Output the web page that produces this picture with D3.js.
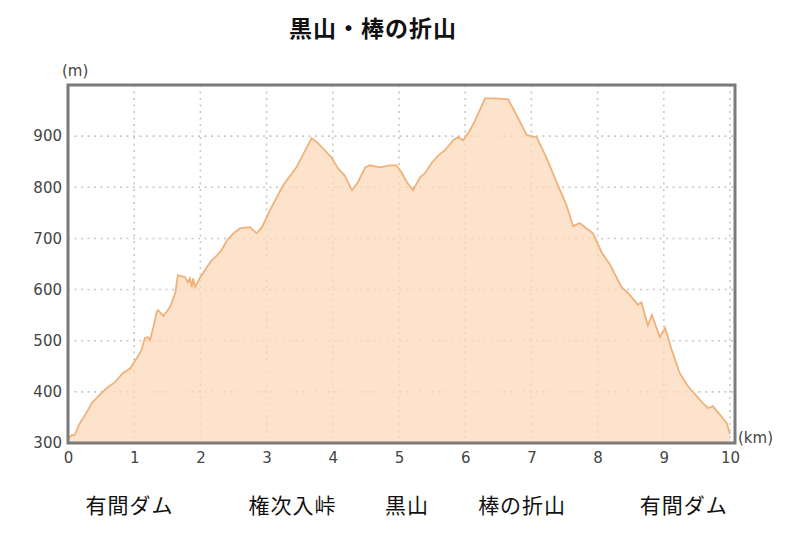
<!DOCTYPE html>
<html><head><meta charset="utf-8">
<script src="https://cdn.jsdelivr.net/npm/d3@7"></script>
<style>body{margin:0;background:#fff;}svg{display:block;}</style>
</head><body>
<script>
const title = "黒山・棒の折山";
const distKm = [0,0.06,0.1,0.18,0.26,0.36,0.45,0.58,0.71,0.83,
0.94,1.04,1.11,1.16,1.21,1.24,1.29,1.34,1.36,1.44,
1.54,1.62,1.66,1.77,1.81,1.84,1.87,1.89,1.92,1.99,
2.1,2.17,2.25,2.32,2.40,2.5,2.6,2.75,2.85,2.93,
3.05,3.25,3.45,3.68,3.78,3.91,3.98,4.08,4.18,4.29,
4.38,4.49,4.56,4.71,4.86,4.96,5.04,5.12,5.21,5.32,
5.39,5.49,5.59,5.69,5.82,5.89,5.97,6.07,6.15,6.30,
6.45,6.65,6.80,6.93,7.08,7.23,7.38,7.53,7.63,7.73,
7.83,7.93,8.06,8.19,8.36,8.49,8.61,8.66,8.76,8.82,
8.94,9.02,9.12,9.24,9.37,9.55,9.59,9.67,9.74,9.85,
9.95,10.0];
const elevM = [308,316,316,339,355,378,390,407,419,437,
446,466,482,505,507,501,527,556,560,548,
566,593,628,624,614,622,605,622,605,622,
644,657,667,677,696,710,720,722,710,722,
755,804,839,896,886,868,858,837,823,794,
810,839,843,839,843,843,829,810,794,820,
827,847,862,872,892,898,892,911,931,974,
974,972,935,902,898,857,810,765,724,730,
720,710,673,648,605,589,570,575,530,550,
507,525,482,437,410,384,378,368,372,355,
339,318];
const xTicks = [0,1,2,3,4,5,6,7,8,9,10];
const yTicks = [300,400,500,600,700,800,900];
const placeNames = ["有間ダム","権次入峠","黒山","棒の折山","有間ダム"];
const placeKm = [0.93,3.39,5.12,6.86,9.3];

const W = 800, H = 552;
const svg = d3.select("body").append("svg").attr("width", W).attr("height", H);
const pL = 68, pR = 735, pT = 85, pB = 443;
const x = d3.scaleLinear().domain([0, 10]).range([pL, 730]);
const y = d3.scaleLinear().domain([300, 1000]).range([pB, pT]);
const data = distKm.map((d, i) => ({d, e: elevM[i]}));
const tickFont = "DejaVu Sans, Verdana, sans-serif";

svg.append("rect").attr("x", pL).attr("y", pT).attr("width", pR - pL).attr("height", pB - pT).attr("fill", "#fff");

const grid = svg.append("g").attr("stroke", "#c8c8c8").attr("stroke-width", 1.6).attr("stroke-dasharray", "2,4.5");
grid.selectAll(".gx").data(xTicks.filter(t => t > 0)).join("line")
  .attr("x1", d => x(d)).attr("x2", d => x(d)).attr("y1", pT).attr("y2", pB);
grid.selectAll(".gy").data(yTicks.filter(t => t > 300)).join("line")
  .attr("x1", pL).attr("x2", pR).attr("y1", d => y(d)).attr("y2", d => y(d));

const area = d3.area().x(d => x(d.d)).y0(y(300)).y1(d => y(d.e));
svg.append("path").datum(data).attr("d", area).attr("fill", "#fcdabb").attr("fill-opacity", 0.75);
const line = d3.line().x(d => x(d.d)).y(d => y(d.e));
svg.append("path").datum(data).attr("d", line).attr("fill", "none").attr("stroke", "#f0b27a").attr("stroke-width", 1.8);

svg.append("rect").attr("x", pL).attr("y", pT).attr("width", pR - pL).attr("height", pB - pT)
  .attr("fill", "none").attr("stroke", "#7a7a7a").attr("stroke-width", 3);

const xAxis = d3.axisBottom(x).tickValues(xTicks).tickSize(0).tickPadding(9);
const gx = svg.append("g").attr("transform", `translate(0,${pB})`).call(xAxis);
gx.select(".domain").remove();
gx.selectAll("text").attr("font-family", tickFont).attr("font-size", 15).attr("fill", "#444");
const yAxis = d3.axisLeft(y).tickValues(yTicks).tickSize(0).tickPadding(6);
const gy = svg.append("g").attr("transform", `translate(${pL},0)`).call(yAxis);
gy.select(".domain").remove();
gy.selectAll("text").attr("font-family", tickFont).attr("font-size", 15).attr("fill", "#444");

svg.append("text").attr("x", 62).attr("y", 76).text("(m)")
  .attr("font-family", tickFont).attr("font-size", 15).attr("fill", "#444");
svg.append("text").attr("x", 738).attr("y", 443).text("(km)")
  .attr("font-family", tickFont).attr("font-size", 15).attr("fill", "#444");

svg.append("text").attr("x", 373).attr("y", 37).attr("text-anchor", "middle").text(title)
  .attr("font-family", "Noto Sans CJK JP").attr("font-weight", "bold").attr("font-size", 23)
  .attr("letter-spacing", 1).attr("fill", "#111");

svg.selectAll(".pn").data(placeNames).join("text")
  .attr("x", (d, i) => x(placeKm[i])).attr("y", 513).attr("text-anchor", "middle").text(d => d)
  .attr("font-family", "Noto Sans CJK JP").attr("font-size", 21).attr("fill", "#111").attr("letter-spacing", 1);
</script>
</body></html>
